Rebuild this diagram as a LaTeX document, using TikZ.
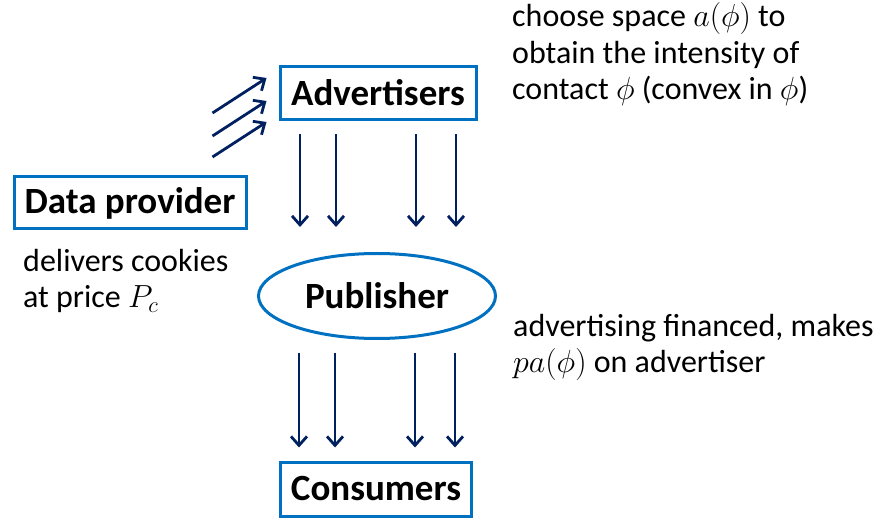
\documentclass[tikz,border=0pt]{standalone}
\usepackage{fix-cm}
\usepackage{fontspec}
\setmainfont{Carlito}
\usetikzlibrary{shapes.geometric,arrows.meta}
\definecolor{boxblue}{RGB}{0,112,192}
\definecolor{navy}{RGB}{0,32,96}
\begin{document}
\begin{tikzpicture}[x=1pt,y=-1pt]
    \tikzstyle{actor}=[draw=boxblue, line width=3pt, fill=white, inner sep=0pt, font=\fontsize{37}{42}\selectfont\bfseries]
    \tikzstyle{note}=[anchor=base west, align=left, inner sep=0pt, font=\fontsize{32}{36.5}\selectfont]
    \tikzstyle{flow}=[draw=navy, line width=2.8pt, -{Straight Barb[length=9pt,width=16pt]}]
    \useasboundingbox (0,0) rectangle (878,518);
    \node[actor, minimum width=196pt, minimum height=53pt] (adv) at (378,93) {Advertisers};
    \node[actor, minimum width=232pt, minimum height=52pt] (data) at (130,203) {Data provider};
    \node[actor, ellipse, minimum width=237pt, minimum height=85pt] (pub) at (377,296) {Publisher};
    \node[actor, minimum width=191pt, minimum height=54pt] (cons) at (376,489) {Consumers};
    \node[note] (advnote) at (512,100) {choose space $a(\phi)$ to\\obtain the intensity of\\contact $\phi$ (convex in $\phi$)};
    \node[note] (datanote) at (23,308) {delivers cookies\\at price $P_c$};
    \node[note] (pubnote) at (513,373) {advertising financed, makes\\$pa(\phi)$ on advertiser};
    % data into advertisers
    \foreach \dy in {0,23,44}
      \draw[flow] ([shift={(-66,20+\dy)}]adv.west) -- ([shift={(-12,-15+\dy)}]adv.west);
    % advertisers -> publisher -> consumers
    \foreach \dx in {-78,-42,38,78}{
      \draw[flow, shorten <=13pt, shorten >=25pt] ([xshift=\dx pt]adv.south) -- ([xshift=\dx pt]adv.south |- pub.north);
      \draw[flow, shorten <=13pt, shorten >=13pt] ([xshift=\dx pt]pub.south) -- ([xshift=\dx pt]pub.south |- cons.north);
    }
\end{tikzpicture}
\end{document}
